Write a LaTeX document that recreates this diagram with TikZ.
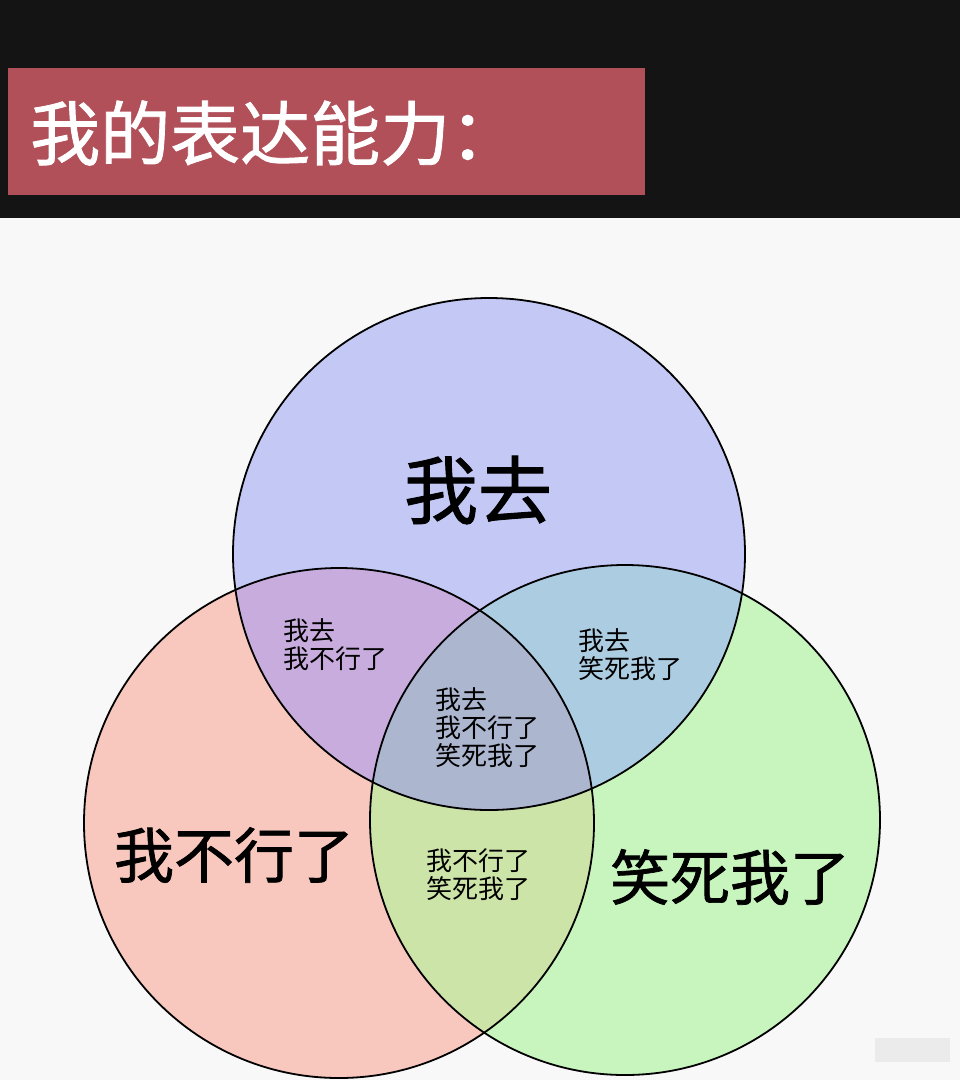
\documentclass[tikz,border=0pt]{standalone}
\usepackage{fontspec}
\setmainfont{Noto Sans CJK SC}
\newfontfamily\cjkb[FakeBold=1.2]{Noto Sans CJK SC}
\definecolor{bandc}{RGB}{20,20,20}
\definecolor{titlec}{RGB}{178,80,90}
\definecolor{bgc}{RGB}{248,248,248}
\definecolor{topc}{RGB}{196,200,245}
\definecolor{leftc}{RGB}{248,200,190}
\definecolor{rightc}{RGB}{200,245,190}
\definecolor{tlc}{RGB}{200,172,222}
\definecolor{trc}{RGB}{172,205,225}
\definecolor{lrc}{RGB}{205,228,168}
\definecolor{allc}{RGB}{172,182,206}
\begin{document}
\begin{tikzpicture}[x=1pt,y=-1pt,
  ring/.style={draw=black,line width=1.8pt},
  big/.style={font=\cjkb\fontsize{60}{60}\selectfont},
  small/.style={font=\fontsize{26}{28}\selectfont,align=left,inner sep=0pt}]
\useasboundingbox (0,0) rectangle (960,1080);
\fill[bgc] (0,0) rectangle (960,1080);
\fill[bandc] (0,0) rectangle (960,218);
\fill[titlec] (8,68) rectangle (645,195);
\node[anchor=west,text=white,font=\cjkb\fontsize{70}{70}\selectfont,inner sep=0pt] (title) at (30,133) {我的表达能力：};
\fill[topc] (489,554) circle (256);
\fill[leftc] (339,823) circle (255);
\fill[rightc] (625,820) circle (255);
\begin{scope}
\clip (489,554) circle (256);
\fill[tlc] (339,823) circle (255);
\fill[trc] (625,820) circle (255);
\end{scope}
\begin{scope}
\clip (339,823) circle (255);
\fill[lrc] (625,820) circle (255);
\clip (625,820) circle (255);
\fill[allc] (489,554) circle (256);
\end{scope}
\draw[ring] (489,554) circle (256);
\draw[ring] (339,823) circle (255);
\draw[ring] (625,820) circle (255);
\node[font=\cjkb\fontsize{74}{74}\selectfont] (a) at (478,490) {我去};
\node[big] (b) at (234,855) {我不行了};
\node[big] (c) at (730,877) {笑死我了};
\node[small] (ab) at (335,645) {我去\\我不行了};
\node[small] (ac) at (630,655) {我去\\笑死我了};
\node[small] (abc) at (487,728) {我去\\我不行了\\笑死我了};
\node[small] (bc) at (478,875) {我不行了\\笑死我了};
\fill[black!8] (875,1038) rectangle (950,1062);
\end{tikzpicture}
\end{document}
